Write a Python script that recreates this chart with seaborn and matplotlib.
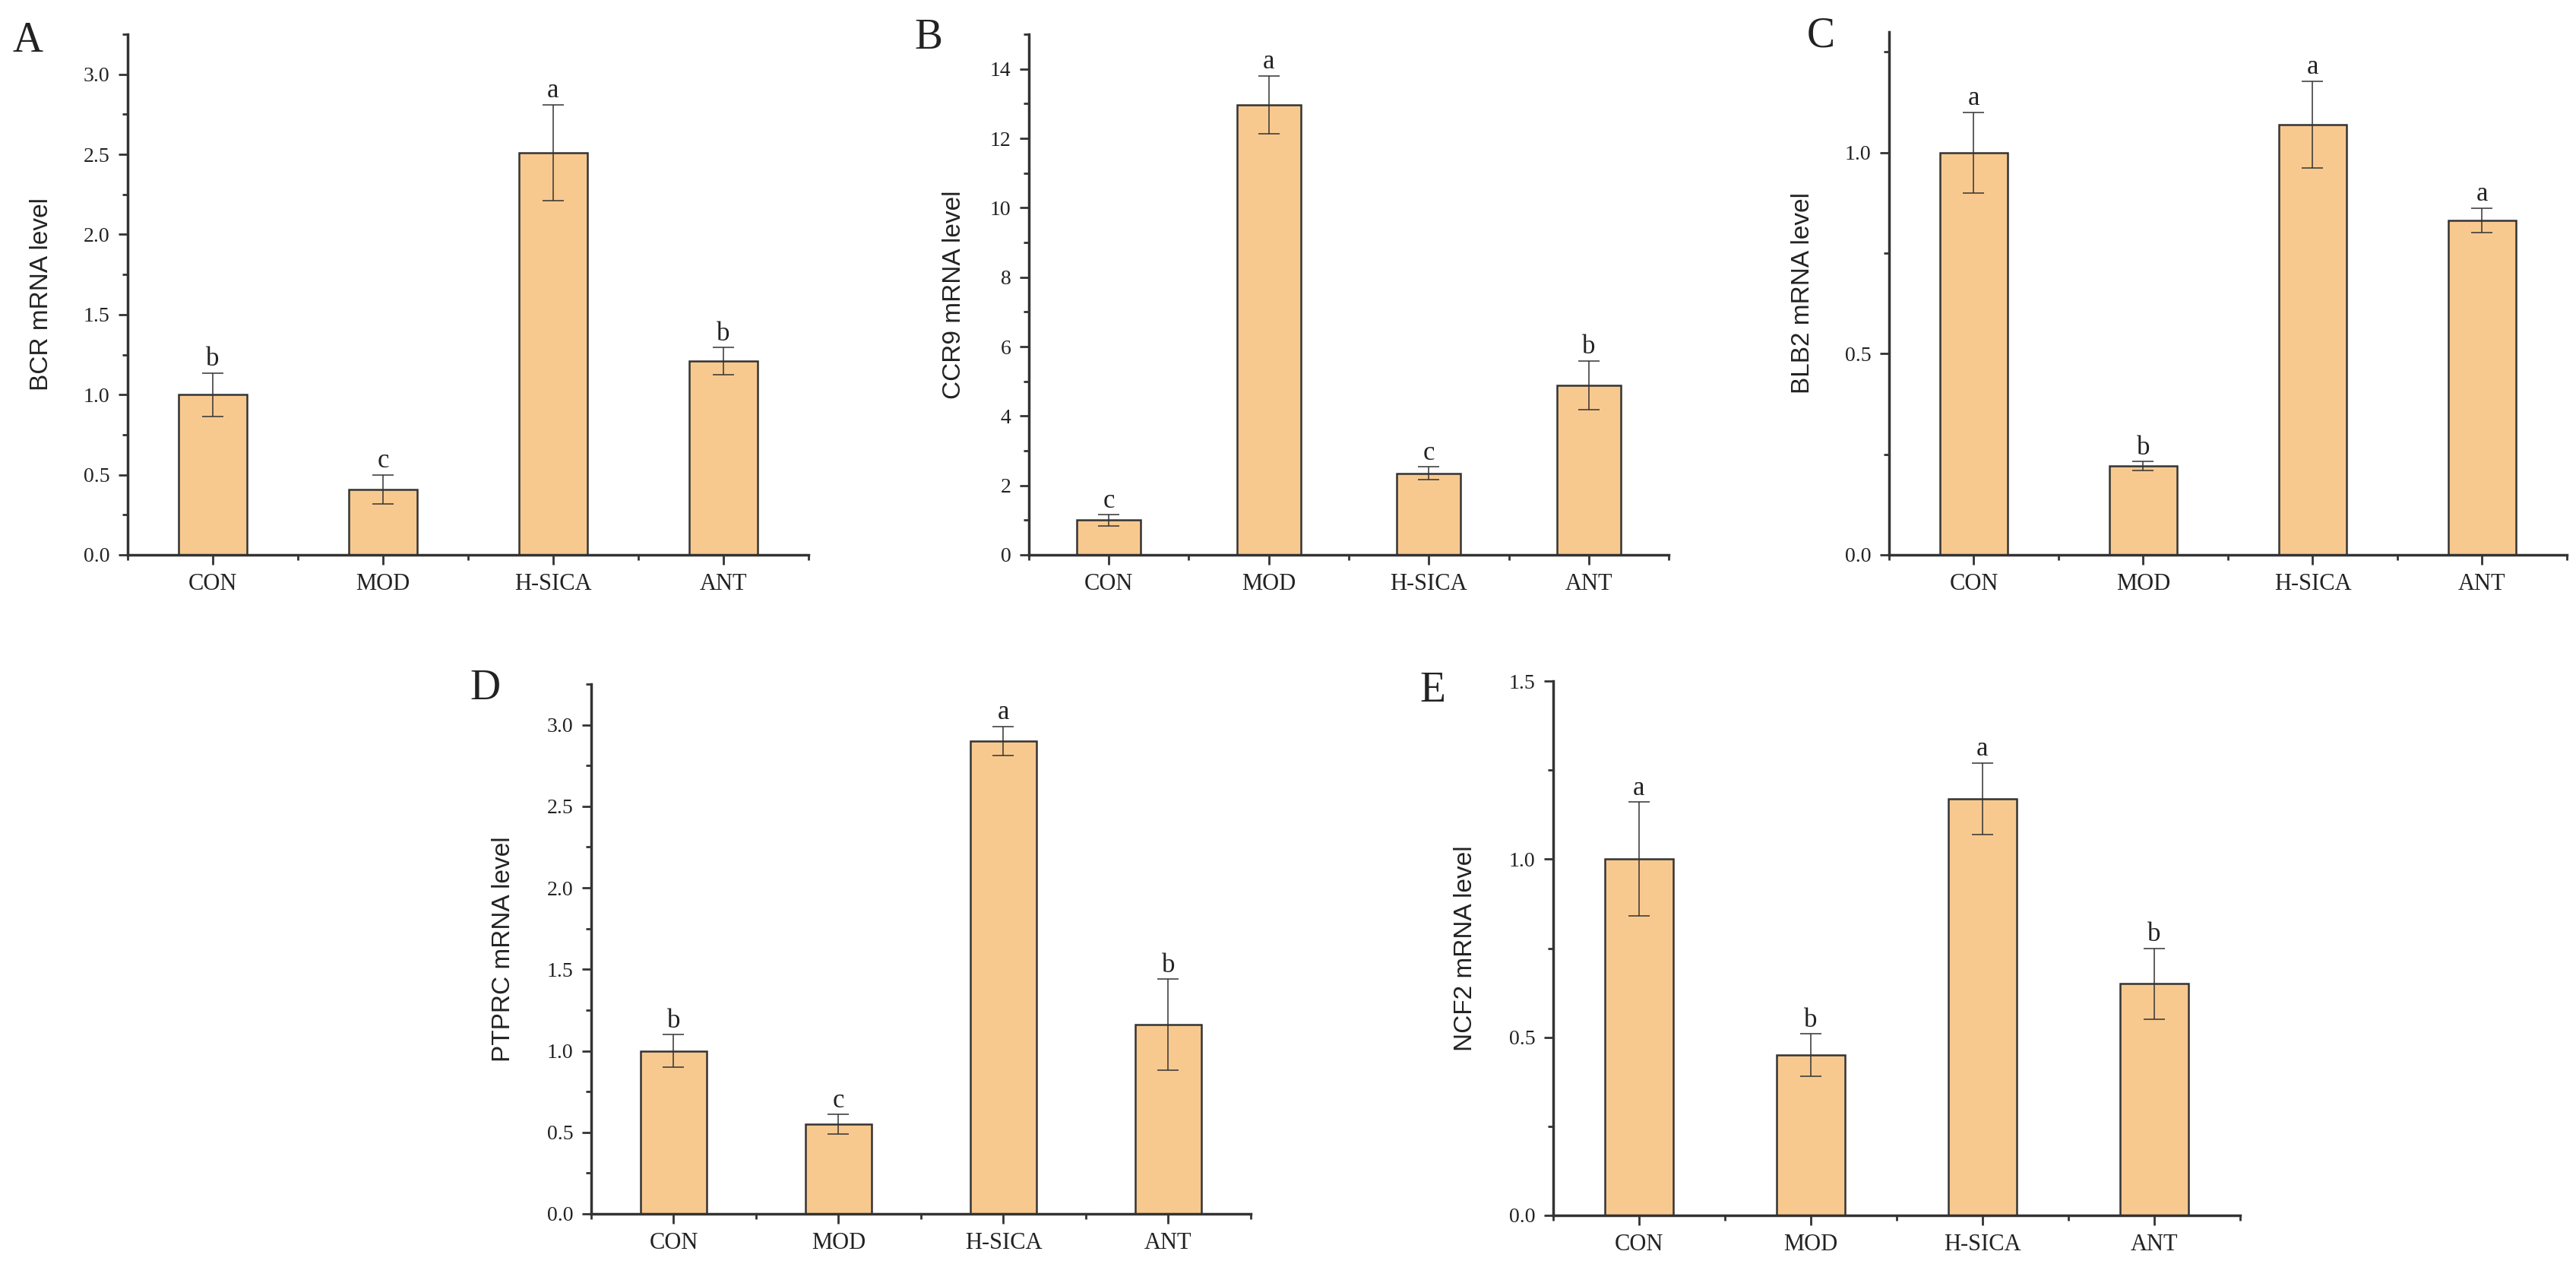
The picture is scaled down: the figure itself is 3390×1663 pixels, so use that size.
import matplotlib
matplotlib.use("Agg")
import matplotlib.pyplot as plt
from matplotlib.ticker import MultipleLocator, FormatStrFormatter, FixedLocator
import pandas as pd
import seaborn as sns

# --- Data ---
groups = ["CON", "MOD", "H-SICA", "ANT"]

bcr_mean = [1.00, 0.41, 2.51, 1.21]
bcr_err = [0.135, 0.09, 0.30, 0.085]
bcr_sig = ["b", "c", "a", "b"]

ccr9_mean = [1.00, 12.97, 2.35, 4.89]
ccr9_err = [0.16, 0.83, 0.19, 0.70]
ccr9_sig = ["c", "a", "c", "b"]

blb2_mean = [1.00, 0.221, 1.07, 0.832]
blb2_err = [0.10, 0.011, 0.108, 0.03]
blb2_sig = ["a", "b", "a", "a"]

ptprc_mean = [1.00, 0.55, 2.90, 1.16]
ptprc_err = [0.10, 0.06, 0.09, 0.28]
ptprc_sig = ["b", "c", "a", "b"]

ncf2_mean = [1.00, 0.45, 1.17, 0.65]
ncf2_err = [0.16, 0.06, 0.10, 0.10]
ncf2_sig = ["a", "b", "a", "b"]

W, H = 3391, 1663
bar_color = "#F8C98F"
line_color = "#333333"
serif = ["Liberation Serif", "DejaVu Serif"]
sans = ["Liberation Sans", "DejaVu Sans"]

sns.set_theme(style="ticks")
plt.rcParams["font.family"] = serif


def px_box(left, top, right, bottom):
    # pixel box -> figure fraction rect
    return [left / W, 1 - bottom / H, (right - left) / W, (bottom - top) / H]


panels = [
    # letter, ylabel, means, errs, sig, ylim, major, minor, fmt, box, letter pos, ylabel dist
    ("A", "BCR mRNA level", bcr_mean, bcr_err, bcr_sig, 3.25, 0.5, 0.25, "%.1f",
     px_box(168, 45, 1064, 730), (37, 54), 98),
    ("B", "CCR9 mRNA level", ccr9_mean, ccr9_err, ccr9_sig, 15, 2, 1, "%d",
     px_box(1354, 45, 2196, 730), (1222, 50), 83),
    ("C", "BLB2 mRNA level", blb2_mean, blb2_err, blb2_sig, 1.3, 0.5, 0.25, "%.1f",
     px_box(2486, 42, 3378, 730), (2396, 48), 98),
    ("D", "PTPRC mRNA level", ptprc_mean, ptprc_err, ptprc_sig, 3.25, 0.5, 0.25, "%.1f",
     px_box(778, 900, 1646, 1597), (639, 906), 100),
    ("E", "NCF2 mRNA level", ncf2_mean, ncf2_err, ncf2_sig, 1.5, 0.5, 0.25, "%.1f",
     px_box(2044, 896, 2948, 1599), (1885, 909), 100),
]

fig = plt.figure(figsize=(W / 100, H / 100), dpi=100)
fig.patch.set_facecolor("white")

for (letter, ylabel, means, errs, sig, ytop, major, minor, fmt,
     box, letter_pos, ylab_dist) in panels:
    ax = fig.add_axes(box)
    df = pd.DataFrame({"group": groups, "level": means})
    sns.barplot(data=df, x="group", y="level", color=bar_color, saturation=1,
                width=0.4, edgecolor=line_color, linewidth=1.8,
                errorbar=None, ax=ax)
    ax.errorbar(range(len(groups)), means, yerr=errs, fmt="none",
                ecolor=line_color, elinewidth=1.1, capsize=10, capthick=1.1)
    for i, (m, e, s) in enumerate(zip(means, errs, sig)):
        ax.annotate(s, (i, m + e), xytext=(0, 1), textcoords="offset points",
                    ha="center", va="bottom", fontsize=25, family=serif,
                    color="#222222")

    ax.set_xlim(-0.5, len(groups) - 0.5)
    ax.set_ylim(0, ytop)
    ax.yaxis.set_major_locator(MultipleLocator(major))
    ax.yaxis.set_minor_locator(MultipleLocator(minor))
    ax.yaxis.set_major_formatter(FormatStrFormatter(fmt))
    ax.xaxis.set_minor_locator(FixedLocator([-0.5, 0.5, 1.5, 2.5, 3.5]))

    sns.despine(ax=ax)
    for side in ["left", "bottom"]:
        ax.spines[side].set_linewidth(2.5)
        ax.spines[side].set_color(line_color)
    ax.tick_params(axis="both", which="major", length=9, width=2,
                   color=line_color, pad=8)
    ax.tick_params(axis="both", which="minor", length=5, width=2,
                   color=line_color)
    ax.tick_params(axis="x", labelsize=22)
    ax.tick_params(axis="y", labelsize=20)
    for lab in ax.get_xticklabels() + ax.get_yticklabels():
        lab.set_family(serif)
        lab.set_color("#222222")

    ax.set_xlabel("")
    ax.set_ylabel(ylabel, fontsize=24, family=sans, color="#222222")
    ax.yaxis.set_label_coords(-ylab_dist / (box[2] * W), 0.5)

    fig.text(letter_pos[0] / W, 1 - letter_pos[1] / H, letter, fontsize=40,
             family=serif, ha="center", va="center", color="#222222")

fig.savefig("out.png", dpi=100, facecolor="white")
